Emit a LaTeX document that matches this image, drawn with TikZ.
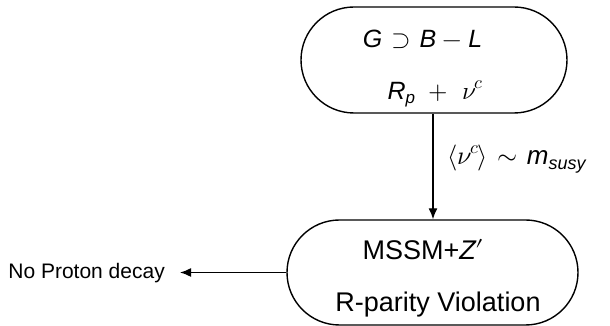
\documentclass[tikz,border=0pt]{standalone}
\usepackage{fontspec}
\setmainfont{Liberation Sans}
\newfontfamily\lmm{Latin Modern Math}
\usetikzlibrary{arrows.meta}
% italic sans letters, Computer Modern style symbols, scripts by hand
\newcommand{\vi}[1]{{\itshape #1}}
\newcommand{\sy}[1]{{\lmm\symbol{#1}}}
\newcommand{\sz}[1]{\fontsize{#1}{1.2\dimexpr #1pt\relax}\selectfont}
\newcommand{\lo}[2]{\raisebox{-0.16em}{\sz{#1}#2}}
\newcommand{\hi}[2]{\raisebox{0.45em}{\sz{#1}#2}}
\newcommand{\rel}{\hspace{0.36em}}
\newcommand{\bin}{\hspace{0.25em}}
\begin{document}
\begin{tikzpicture}[x=1pt,y=1pt,
  stage/.style={draw=black, line width=1.4pt, rectangle, inner sep=0pt},
  flow/.style={line width=1.4pt, -{Latex[length=11pt,width=9pt]}},
  txt/.style={inner sep=0pt, anchor=base}]
\useasboundingbox (0,0) rectangle (610,326);

% upper stage: symmetry breaking
\node[stage, minimum width=266pt, minimum height=106pt, rounded corners=53pt] (top) at (434,266) {};
\node[txt] (topA) at (422.5,278)
  {\sz{25}\vi{G}\rel\sy{"2283}\rel\vi{B}\bin\sy{"2212}\bin\vi{L}};
\node[txt] (topB) at (435,226)
  {\sz{25}\vi{R}\lo{17}{\vi{p}}\ \ \sy{"002B}\ \ \sy{"1D708}\hi{18}{\sy{"1D450}}};

% lower stage: low-energy model
\node[stage, minimum width=291pt, minimum height=105pt, rounded corners=52.5pt] (bot) at (432.5,53.5) {};
\node[txt] (botA) at (423.5,66) {\sz{27}MSSM+\vi{Z}\sy{"2032}};
\node[txt] (botB) at (438,14) {\sz{27}R-parity Violation};

% connectors
\draw[flow] (top.south -| 433,0) -- (bot.north -| 433,0);
\node[inner sep=0pt, anchor=base west] (vev) at (447,161)
  {\sz{26}\sy{"27E8}\sy{"1D708}\hi{18}{\sy{"1D450}}\sy{"27E9}\rel\sy{"223C}\rel\vi{m}\lo{18}{\vi{susy}}};

\coordinate (tip) at (180,53.5);
\draw[flow] (bot.west) -- (tip);
\node[inner sep=0pt, anchor=base east] (nopd) at (165,47) {\sz{21}No Proton decay};
\end{tikzpicture}
\end{document}
